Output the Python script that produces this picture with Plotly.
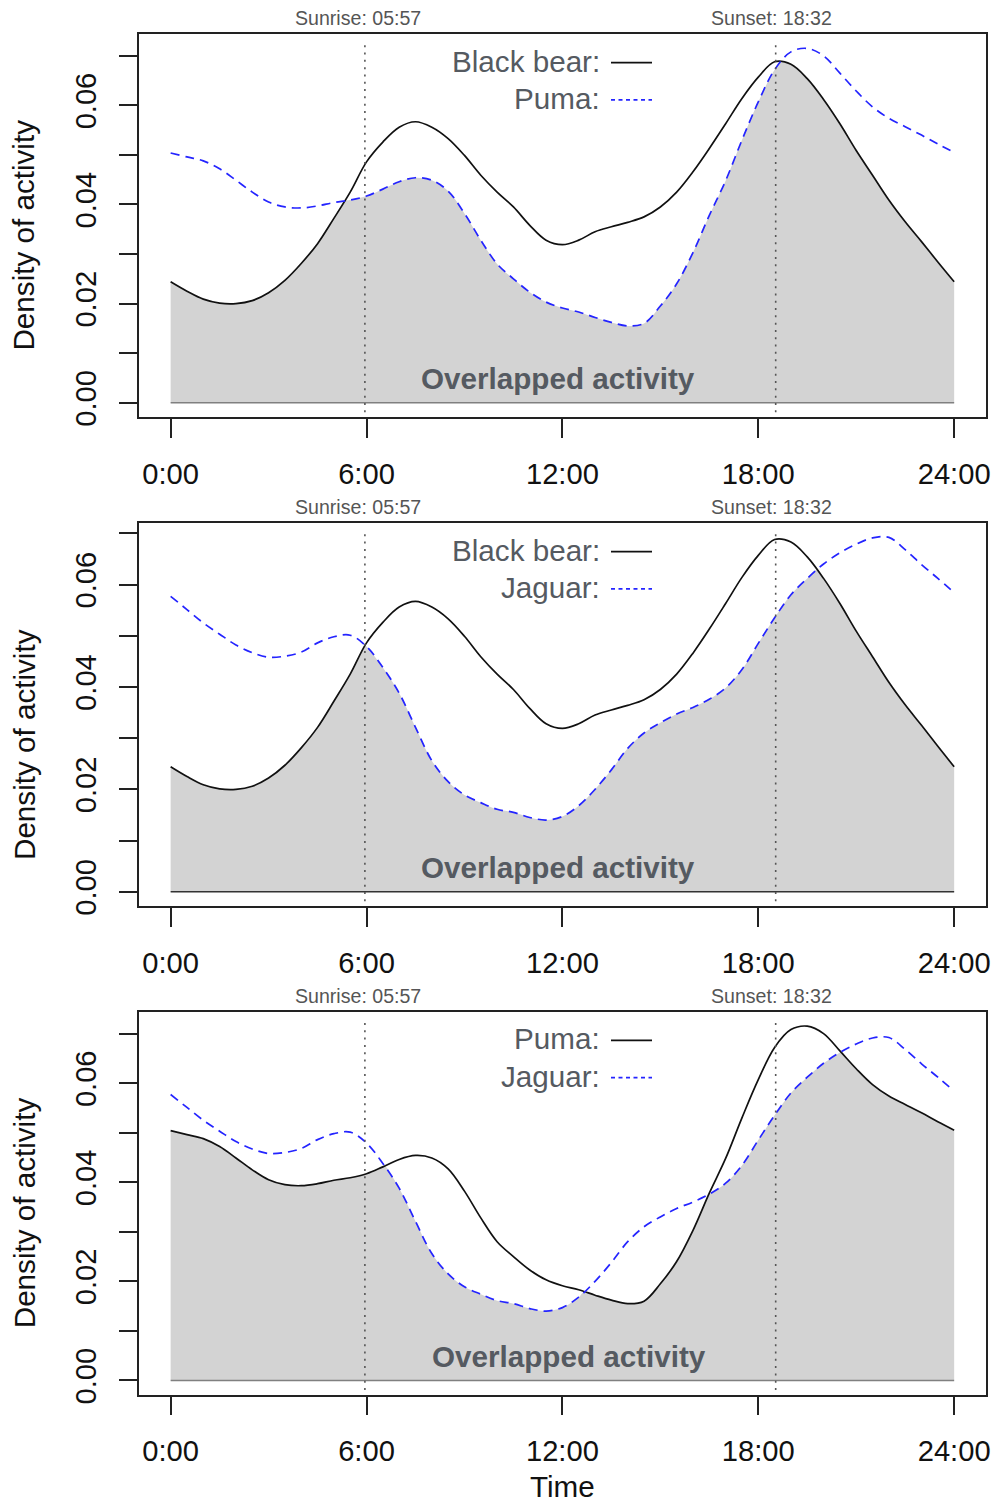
import plotly.graph_objects as go

# ---------------- data ----------------
HOURS = [i * 0.5 for i in range(49)]  # 0:00 .. 24:00 every 30 min

BLACK_BEAR = [
    0.0244, 0.0225, 0.0209, 0.0201, 0.0200, 0.0206, 0.0222, 0.0247, 0.0281, 0.0321,
    0.0372, 0.0425, 0.0486, 0.0526, 0.0556, 0.0567, 0.0556, 0.0533, 0.0499, 0.0459,
    0.0425, 0.0395, 0.0358, 0.0328, 0.0319, 0.0328, 0.0345, 0.0355, 0.0364, 0.0375,
    0.0395, 0.0425, 0.0466, 0.0513, 0.0563, 0.0614, 0.0657, 0.0688, 0.0683, 0.0654,
    0.0612, 0.0563, 0.0509, 0.0459, 0.0409, 0.0365, 0.0325, 0.0284, 0.0244,
]

PUMA = [
    0.0504, 0.0496, 0.0488, 0.0472, 0.0449, 0.0425, 0.0405, 0.0395, 0.0393, 0.0397,
    0.0404, 0.0409, 0.0417, 0.0431, 0.0446, 0.0454, 0.0449, 0.0427, 0.0382, 0.0328,
    0.0280, 0.0250, 0.0223, 0.0203, 0.0191, 0.0183, 0.0172, 0.0162, 0.0155, 0.0160,
    0.0195, 0.0240, 0.0303, 0.0378, 0.0448, 0.0530, 0.0607, 0.0672, 0.0708, 0.0715,
    0.0700, 0.0665, 0.0629, 0.0597, 0.0574, 0.0557, 0.0540, 0.0522, 0.0505,
]

JAGUAR = [
    0.0577, 0.0551, 0.0525, 0.0503, 0.0482, 0.0467, 0.0458, 0.0460, 0.0468, 0.0486,
    0.0498, 0.0501, 0.0479, 0.0438, 0.0388, 0.0321, 0.0256, 0.0215, 0.0189, 0.0174,
    0.0161, 0.0155, 0.0145, 0.0140, 0.0147, 0.0168, 0.0200, 0.0238, 0.0280, 0.0310,
    0.0330, 0.0347, 0.0360, 0.0376, 0.0398, 0.0434, 0.0485, 0.0535, 0.0580, 0.0612,
    0.0640, 0.0662, 0.0679, 0.0691, 0.0692, 0.0668, 0.0639, 0.0612, 0.0584,
]

X_TICK_VALS = [0, 6, 12, 18, 24]
X_TICK_TEXT = ["0:00", "6:00", "12:00", "18:00", "24:00"]
Y_TICK_VALS = [0.00, 0.01, 0.02, 0.03, 0.04, 0.05, 0.06, 0.07]
Y_TICK_TEXT = ["0.00", "", "0.02", "", "0.04", "", "0.06", ""]

SUNRISE = 5 + 57 / 60
SUNSET = 18 + 32 / 60
SUNRISE_LABEL = "Sunrise: 05:57"
SUNSET_LABEL = "Sunset: 18:32"

PANELS = [
    ("Black bear", BLACK_BEAR, "Puma", PUMA),
    ("Black bear", BLACK_BEAR, "Jaguar", JAGUAR),
    ("Puma", PUMA, "Jaguar", JAGUAR),
]

# ---------------- layout geometry (reference pixels) ----------------
RW, RH = 995, 1500          # reference frame
S = 1.005                   # compensates the slight down-scaling of the capture
W, H = round(RW * S), round(RH * S)
FONT = "Liberation Sans, Arial, Helvetica, sans-serif"
BOX_LEFT, BOX_RIGHT = 139.3, 985.5
BOX_TOPS = [34.3, 524.3, 1014.0]
BOX_H = 383.4
OVL_X = [558.3, 558.3, 569.2]
YTITLE_Y = [236.0, 746.5, 1215.7]
BASE_COL = ["#808080", "#333333", "#808080"]
TEXT_GREY = "#555a61"
BLUE = "#2424ff"


def px(x):
    return x / RW


def py(y):
    return 1 - y / RH


def sz(v):
    return v * S


def overlap(xs, a, b):
    ox, oy = [], []
    for i in range(len(xs)):
        ox.append(xs[i])
        oy.append(min(a[i], b[i]))
        if i < len(xs) - 1:
            d0 = a[i] - b[i]
            d1 = a[i + 1] - b[i + 1]
            if d0 * d1 < 0:
                t = d0 / (d0 - d1)
                ox.append(xs[i] + t * (xs[i + 1] - xs[i]))
                oy.append(a[i] + t * (a[i + 1] - a[i]))
    return ox, oy


fig = go.Figure()
annotations = []
shapes = []
layout_axes = {}

for k, (name1, s1, name2, s2) in enumerate(PANELS):
    n = k + 1
    xa = "x" if n == 1 else f"x{n}"
    ya = "y" if n == 1 else f"y{n}"
    xkey = "xaxis" if n == 1 else f"xaxis{n}"
    ykey = "yaxis" if n == 1 else f"yaxis{n}"
    top = BOX_TOPS[k]
    bot = top + BOX_H
    M = max(max(s1), max(s2))

    ox, oy = overlap(HOURS, s1, s2)
    fig.add_trace(go.Scatter(x=ox, y=oy, mode="lines", fill="tozeroy",
                             fillcolor="#d3d3d3", line=dict(width=0, shape="spline"),
                             xaxis=xa, yaxis=ya, showlegend=False, hoverinfo="skip"))
    fig.add_trace(go.Scatter(x=[HOURS[0], HOURS[-1]], y=[0, 0], mode="lines",
                             line=dict(color=BASE_COL[k], width=1.5),
                             xaxis=xa, yaxis=ya, showlegend=False, hoverinfo="skip"))
    fig.add_trace(go.Scatter(x=HOURS, y=s1, mode="lines", name=name1,
                             line=dict(color="#111111", width=1.7, shape="spline"),
                             xaxis=xa, yaxis=ya, showlegend=False))
    fig.add_trace(go.Scatter(x=HOURS, y=s2, mode="lines", name=name2,
                             line=dict(color=BLUE, width=1.7, dash="9px,6px", shape="spline"),
                             xaxis=xa, yaxis=ya, showlegend=False))

    layout_axes[xkey] = dict(
        domain=[px(BOX_LEFT), px(BOX_RIGHT)], range=[-0.04 * 24, 24 * 1.04],
        anchor=ya, tickmode="array", tickvals=X_TICK_VALS, ticktext=X_TICK_TEXT,
        ticks="outside", ticklen=sz(19), tickwidth=1.5, tickcolor="#222",
        showline=True, linewidth=1.5, linecolor="#222", mirror=True,
        showgrid=False, zeroline=False, ticklabelstandoff=round(sz(11)),
        tickfont=dict(family=FONT, size=sz(29), color="#111"),
    )
    layout_axes[ykey] = dict(
        domain=[py(bot), py(top)], range=[-0.04 * M, 1.04 * M],
        anchor=xa, tickmode="array", tickvals=Y_TICK_VALS, ticktext=Y_TICK_TEXT,
        ticks="outside", ticklen=sz(18), tickwidth=1.5, tickcolor="#222",
        showline=True, linewidth=1.5, linecolor="#222", mirror=True,
        showgrid=False, zeroline=False, tickangle=-90, ticklabelstandoff=round(sz(12)),
        tickfont=dict(family=FONT, size=sz(29), color="#111"),
    )

    # sunrise / sunset dotted lines
    for xv in (SUNRISE, SUNSET):
        shapes.append(dict(type="line", xref=xa, yref=f"{ya} domain", x0=xv, x1=xv,
                           y0=0.012, y1=0.985,
                           line=dict(color="#555", width=1.6, dash="2px,5.3px")))
    annotations.append(dict(text=SUNRISE_LABEL, xref="paper", yref="paper",
                            x=px(358.3), y=py(top - 15.8), showarrow=False,
                            xanchor="center", yanchor="middle",
                            font=dict(family=FONT, size=sz(19.5), color="#555")))
    annotations.append(dict(text=SUNSET_LABEL, xref="paper", yref="paper",
                            x=px(771.3), y=py(top - 15.8), showarrow=False,
                            xanchor="center", yanchor="middle",
                            font=dict(family=FONT, size=sz(19.5), color="#555")))

    # legend (text + line keys)
    for j, (nm, style) in enumerate(((name1, "solid"), (name2, "dash"))):
        ly = top + 28.4 + j * 37.3
        annotations.append(dict(text=nm + ":", xref="paper", yref="paper",
                                x=px(602), y=py(ly - 1.5), showarrow=False,
                                xanchor="right", yanchor="middle",
                                font=dict(family=FONT, size=sz(29.5), color=TEXT_GREY)))
        if style == "solid":
            shapes.append(dict(type="line", xref="paper", yref="paper",
                               x0=px(611), x1=px(652), y0=py(ly), y1=py(ly),
                               line=dict(color="#111", width=1.8)))
        else:
            shapes.append(dict(type="line", xref="paper", yref="paper",
                               x0=px(611), x1=px(652), y0=py(ly), y1=py(ly),
                               line=dict(color=BLUE, width=1.8, dash="4px,3.5px")))

    annotations.append(dict(text="<b>Overlapped activity</b>", xref="paper", yref="paper",
                            x=px(OVL_X[k]), y=py(bot - 38), showarrow=False,
                            xanchor="center", yanchor="middle",
                            font=dict(family=FONT, size=sz(29.5), color=TEXT_GREY)))
    annotations.append(dict(text="Density of activity", xref="paper", yref="paper",
                            x=px(24), y=py(YTITLE_Y[k]), showarrow=False, textangle=-90,
                            xanchor="center", yanchor="middle",
                            font=dict(family=FONT, size=sz(29.5), color="#111")))

annotations.append(dict(text="Time", xref="paper", yref="paper",
                        x=px(562.5), y=py(1489), showarrow=False,
                        xanchor="center", yanchor="middle",
                        font=dict(family=FONT, size=sz(29.5), color="#111")))

fig.update_layout(
    width=W, height=H, margin=dict(l=0, r=0, t=0, b=0),
    paper_bgcolor="white", plot_bgcolor="white",
    showlegend=False, annotations=annotations, shapes=shapes,
    **layout_axes,
)

fig.write_html("out.html")
